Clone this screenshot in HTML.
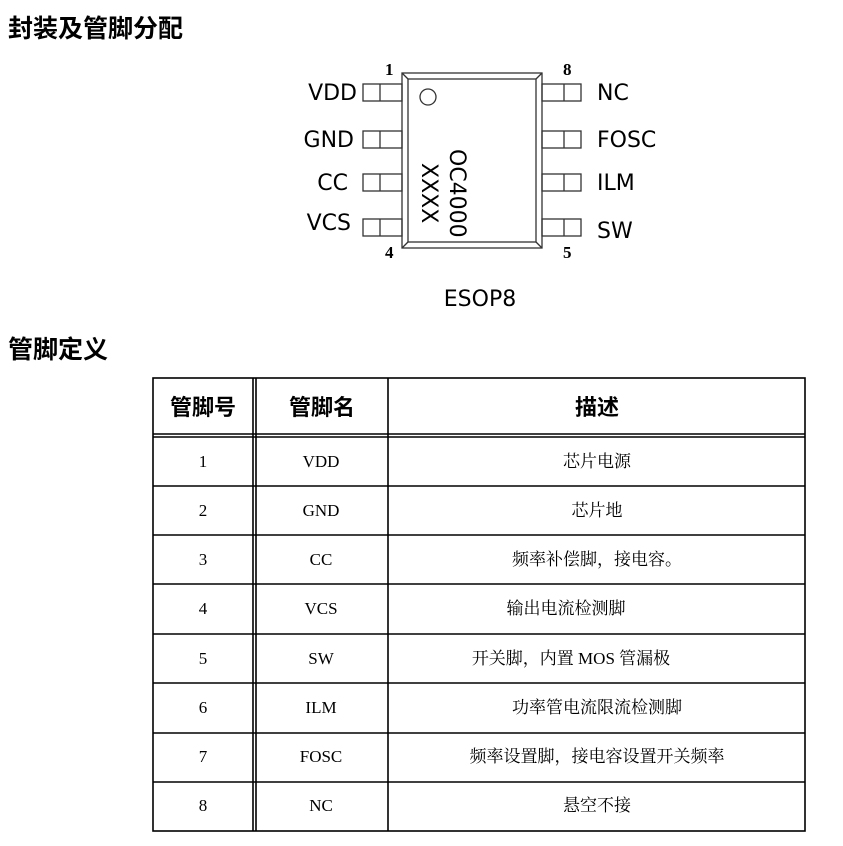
<!DOCTYPE html>
<html><head><meta charset="utf-8"><style>
html,body{margin:0;padding:0;background:#fff;width:843px;height:846px;overflow:hidden}
svg{display:block}
.h{font-family:"Liberation Sans","Noto Sans CJK SC",sans-serif;font-weight:bold;font-size:25px;fill:#000}
.pl{font-family:"DejaVu Sans","Liberation Sans",sans-serif;font-size:22px;fill:#000}
.num{font-family:"Liberation Serif",serif;font-weight:bold;font-size:17px;fill:#000}
.th{font-family:"Liberation Sans","Noto Sans CJK SC",sans-serif;font-weight:bold;font-size:22px;fill:#000}
.td{font-family:"Liberation Serif","Noto Serif CJK SC",serif;font-size:17px;fill:#000}
</style></head><body>
<svg width="843" height="846" viewBox="0 0 843 846" xmlns="http://www.w3.org/2000/svg">
<text class="h" x="8" y="37">封装及管脚分配</text>
<text class="h" x="8" y="358">管脚定义</text>
<g fill="none" stroke="#333" stroke-width="1.3">
<rect x="402" y="73" width="140" height="175"/>
<rect x="408" y="79" width="128" height="163"/>
<line x1="402" y1="73" x2="408" y2="79"/><line x1="542" y1="73" x2="536" y2="79"/>
<line x1="402" y1="248" x2="408" y2="242"/><line x1="542" y1="248" x2="536" y2="242"/>
<circle cx="428" cy="97" r="8"/>
<rect x="363" y="84" width="39" height="17"/><line x1="380" y1="84" x2="380" y2="101"/>
<rect x="363" y="131" width="39" height="17"/><line x1="380" y1="131" x2="380" y2="148"/>
<rect x="363" y="174" width="39" height="17"/><line x1="380" y1="174" x2="380" y2="191"/>
<rect x="363" y="219" width="39" height="17"/><line x1="380" y1="219" x2="380" y2="236"/>
<rect x="542" y="84" width="39" height="17"/><line x1="564" y1="84" x2="564" y2="101"/>
<rect x="542" y="131" width="39" height="17"/><line x1="564" y1="131" x2="564" y2="148"/>
<rect x="542" y="174" width="39" height="17"/><line x1="564" y1="174" x2="564" y2="191"/>
<rect x="542" y="219" width="39" height="17"/><line x1="564" y1="219" x2="564" y2="236"/>
</g>
<text class="pl" x="357" y="100" text-anchor="end">VDD</text>
<text class="pl" x="354" y="147" text-anchor="end">GND</text>
<text class="pl" x="348" y="190" text-anchor="end">CC</text>
<text class="pl" x="351" y="230" text-anchor="end">VCS</text>
<text class="pl" x="597" y="100">NC</text>
<text class="pl" x="597" y="147">FOSC</text>
<text class="pl" x="597" y="190">ILM</text>
<text class="pl" x="597" y="238">SW</text>
<text class="num" x="385" y="75">1</text>
<text class="num" x="563" y="75">8</text>
<text class="num" x="385" y="258">4</text>
<text class="num" x="563" y="258">5</text>
<text class="pl" transform="translate(450,149) rotate(90)">OC4000</text>
<text class="pl" transform="translate(422,163) rotate(90)">XXXX</text>
<text class="pl" x="480" y="306" text-anchor="middle">ESOP8</text>
<g stroke="#000" stroke-width="1.6" fill="none">
<rect x="153" y="378" width="652" height="453"/>
<line x1="253" y1="378" x2="253" y2="831"/><line x1="256" y1="378" x2="256" y2="831"/>
<line x1="388" y1="378" x2="388" y2="831"/>
<line x1="153" y1="434" x2="805" y2="434"/><line x1="153" y1="437" x2="805" y2="437"/>
<line x1="153" y1="486" x2="805" y2="486"/>
<line x1="153" y1="535" x2="805" y2="535"/>
<line x1="153" y1="584" x2="805" y2="584"/>
<line x1="153" y1="634" x2="805" y2="634"/>
<line x1="153" y1="683" x2="805" y2="683"/>
<line x1="153" y1="733" x2="805" y2="733"/>
<line x1="153" y1="782" x2="805" y2="782"/>
</g>
<text class="th" x="203" y="415" text-anchor="middle">管脚号</text>
<text class="th" x="322" y="415" text-anchor="middle">管脚名</text>
<text class="th" x="597" y="415" text-anchor="middle">描述</text>
<g class="td" text-anchor="middle">
<text x="203" y="467">1</text><text x="321" y="467">VDD</text><text x="597" y="467">芯片电源</text>
<text x="203" y="516">2</text><text x="321" y="516">GND</text><text x="597" y="516">芯片地</text>
<text x="203" y="565">3</text><text x="321" y="565">CC</text><text x="597" y="565">频率补偿脚，接电容。</text>
<text x="203" y="614">4</text><text x="321" y="614">VCS</text><text x="566" y="614">输出电流检测脚</text>
<text x="203" y="664">5</text><text x="321" y="664">SW</text><text x="571" y="664">开关脚，内置 MOS 管漏极</text>
<text x="203" y="713">6</text><text x="321" y="713">ILM</text><text x="597" y="713">功率管电流限流检测脚</text>
<text x="203" y="762">7</text><text x="321" y="762">FOSC</text><text x="597" y="762">频率设置脚，接电容设置开关频率</text>
<text x="203" y="811">8</text><text x="321" y="811">NC</text><text x="597" y="811">悬空不接</text>
</g>
</svg>
</body></html>
